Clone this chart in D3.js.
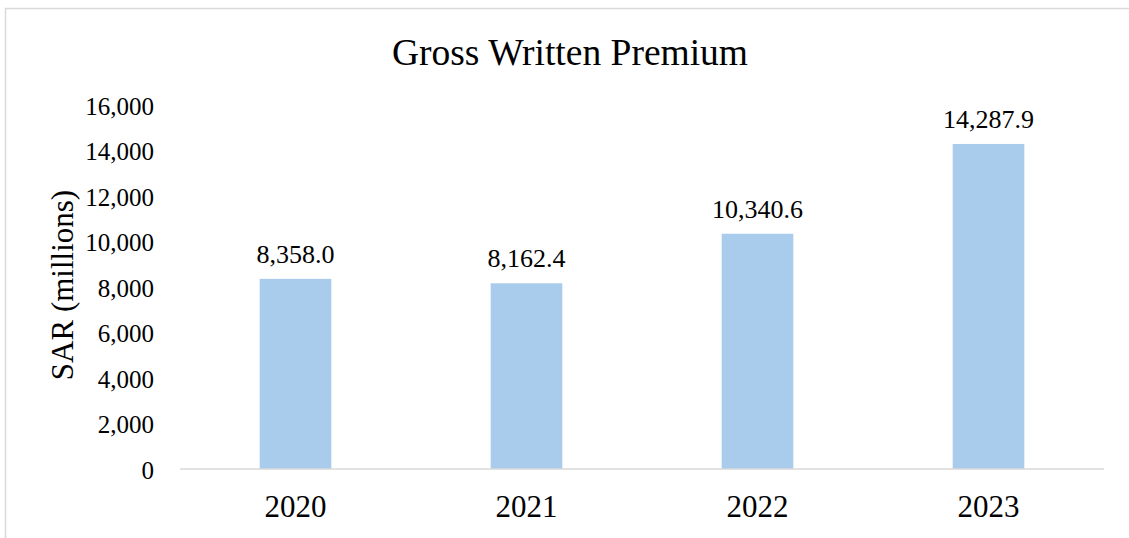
<!DOCTYPE html>
<html>
<head>
<meta charset="utf-8">
<script src="https://cdn.jsdelivr.net/npm/d3@7"></script>
<style>
  body { margin: 0; background: #fff; }
  svg text { font-family: "Liberation Serif", "Times New Roman", serif; fill: #000; }
</style>
</head>
<body>
<div id="container"></div>
<script>
// chart data
const years = ["2020", "2021", "2022", "2023"];
const premiums = [8358.0, 8162.4, 10340.6, 14287.9];
const yTicks = [0, 2000, 4000, 6000, 8000, 10000, 12000, 14000, 16000];

const width = 1129, height = 538;
const margin = {top: 105, bottom: 69, left: 180, right: 25};
const serif = "'Liberation Serif', 'Times New Roman', serif";

const svg = d3.select("#container")
  .append("svg")
  .attr("width", width)
  .attr("height", height);

// outer frame
svg.append("rect")
  .attr("x", 5.5).attr("y", 8.5)
  .attr("width", width + 20).attr("height", height + 20)
  .attr("fill", "none")
  .attr("stroke", "#d9d9d9")
  .attr("stroke-width", 1.5);

const x = d3.scaleBand()
  .domain(years)
  .range([margin.left, width - margin.right])
  .paddingInner(0.69)
  .paddingOuter(0.345);

const y = d3.scaleLinear()
  .domain([0, 16000])
  .range([height - margin.bottom, margin.top]);

// title
svg.append("text")
  .attr("x", 570).attr("y", 65)
  .attr("text-anchor", "middle")
  .style("font-size", "37.5px")
  .text("Gross Written Premium");

// y axis label
svg.append("text")
  .attr("transform", "translate(73, 285) rotate(-90)")
  .attr("text-anchor", "middle")
  .style("font-size", "31px")
  .text("SAR (millions)");

// y axis ticks (no line)
const yAxis = svg.append("g")
  .attr("transform", `translate(${margin.left}, 0)`)
  .call(d3.axisLeft(y).tickValues(yTicks).tickFormat(d3.format(",")).tickSize(0).tickPadding(26));
yAxis.select(".domain").remove();
yAxis.attr("font-family", serif).attr("font-size", 25);
yAxis.selectAll("text").attr("dy", "0.36em");

// bars
svg.selectAll("rect.bar")
  .data(premiums)
  .join("rect")
  .attr("class", "bar")
  .attr("x", (d, i) => x(years[i]))
  .attr("width", x.bandwidth())
  .attr("y", d => y(d))
  .attr("height", d => y(0) - y(d))
  .attr("fill", "#a9cbec");

// baseline
svg.append("line")
  .attr("x1", margin.left).attr("x2", width - margin.right)
  .attr("y1", y(0)).attr("y2", y(0))
  .attr("stroke", "#d9d9d9")
  .attr("stroke-width", 1.5);

// x axis labels
const xAxis = svg.append("g")
  .attr("transform", `translate(0, ${y(0)})`)
  .call(d3.axisBottom(x).tickSize(0).tickPadding(26));
xAxis.select(".domain").remove();
xAxis.attr("font-family", serif).attr("font-size", 31);

// value labels
svg.selectAll("text.val")
  .data(premiums)
  .join("text")
  .attr("class", "val")
  .attr("x", (d, i) => x(years[i]) + x.bandwidth() / 2)
  .attr("y", d => y(d) - 16)
  .attr("text-anchor", "middle")
  .style("font-size", "26px")
  .text(d => d3.format(",.1f")(d));
</script>
</body>
</html>
